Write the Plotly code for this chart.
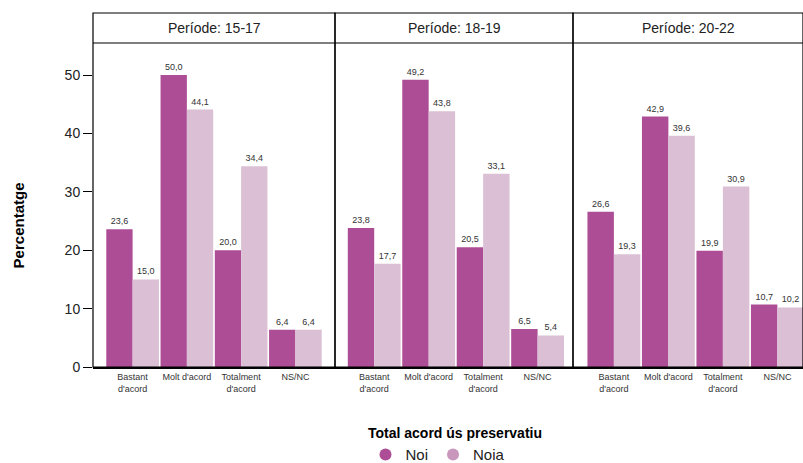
import plotly.graph_objects as go

# dades
categories = ["Bastant<br>d'acord", "Molt d'acord", "Totalment<br>d'acord", "NS/NC"]
periodes = ["Període: 15-17", "Període: 18-19", "Període: 20-22"]
noi = [
    [23.6, 50.0, 20.0, 6.4],
    [23.8, 49.2, 20.5, 6.5],
    [26.6, 42.9, 19.9, 10.7],
]
noia = [
    [15.0, 44.1, 34.4, 6.4],
    [17.7, 43.8, 33.1, 5.4],
    [19.3, 39.6, 30.9, 10.2],
]

COL_NOI = "#AD4D96"
COL_NOIA = "#DBBFD4"
COL_NOIA_LEG = "#C997BB"
FONT = "Liberation Sans, Arial, sans-serif"

W, H = 803, 463
ML, MR, MT, MB = 93, 0, 13, 96
pw, ph = W - ML - MR, H - MT - MB
# panell en píxels
edges_px = [93, 335, 573, 803]
doms = [((a - ML) / pw, (b - ML) / pw) for a, b in zip(edges_px[:-1], edges_px[1:])]
ranges = [[-0.73, 3.73], [-0.72, 3.65], [-0.75, 3.47]]
ytop = (ph - 30) / ph

fig = go.Figure()

for i in range(3):
    xa = "x" if i == 0 else f"x{i+1}"
    for vals, col, nom in [(noi[i], COL_NOI, "Noi"), (noia[i], COL_NOIA, "Noia")]:
        fig.add_trace(go.Bar(
            x=categories, y=vals, name=nom, xaxis=xa, yaxis="y",
            marker=dict(color=col, line=dict(width=0)),
            texttemplate="%{y:.1f}", textposition="outside",
            textfont=dict(size=9, color="#333333", family=FONT),
            constraintext="none", cliponaxis=False, showlegend=False,
        ))

# llegenda amb cercles
for nom, col in [("Noi", COL_NOI), ("Noia", COL_NOIA_LEG)]:
    fig.add_trace(go.Scatter(
        x=[None], y=[None], mode="markers", name=nom,
        marker=dict(color=col, size=16, symbol="circle"),
        xaxis="x", yaxis="y",
    ))

shapes = []
annotations = []
for i, (d0, d1) in enumerate(doms):
    xa_key = "xaxis" if i == 0 else f"xaxis{i+1}"
    fig.update_layout(**{xa_key: dict(
        domain=[d0, d1], anchor="y", type="category",
        categoryorder="array", categoryarray=categories,
        range=ranges[i], showgrid=False, zeroline=False,
        showline=True, linecolor="black", linewidth=2,
        ticks="", tickfont=dict(size=9, color="#333333", family=FONT),
        fixedrange=True,
    )})
    shapes.append(dict(type="rect", xref="paper", yref="paper",
                       x0=d0, x1=d1, y0=0, y1=1,
                       line=dict(color="black", width=1.2)))
    shapes.append(dict(type="line", xref="paper", yref="paper",
                       x0=d0, x1=d1, y0=ytop, y1=ytop,
                       line=dict(color="black", width=1.2)))
    annotations.append(dict(text=periodes[i], xref="paper", yref="paper",
                            x=(d0 + d1) / 2, y=(1 + ytop) / 2,
                            showarrow=False, xanchor="center", yanchor="middle",
                            font=dict(size=14, color="#222222", family=FONT)))

annotations.append(dict(text="<b>Percentatge</b>", xref="paper", yref="paper",
                        x=(18 - ML) / pw, y=0.40, textangle=-90, showarrow=False,
                        xanchor="center", yanchor="middle",
                        font=dict(size=15, color="black", family=FONT)))

fig.update_layout(
    width=W, height=H,
    margin=dict(l=ML, r=MR, t=MT, b=MB, autoexpand=False),
    paper_bgcolor="white", plot_bgcolor="white",
    barmode="group", bargap=0.03, bargroupgap=0,
    separators=",.",
    font=dict(family=FONT, color="#222222"),
    yaxis=dict(domain=[0, ytop], range=[0, 55.5], dtick=10,
               showgrid=False, zeroline=False, showline=False,
               ticks="outside", ticklen=9, tickcolor="black", tickwidth=1.2,
               tickfont=dict(size=14, color="#222222", family=FONT),
               fixedrange=True),
    shapes=shapes,
    annotations=annotations,
    legend=dict(
        orientation="h", x=(455 - ML) / pw, xanchor="center",
        yref="container", y=(H - 420) / H, yanchor="top",
        title=dict(text="<b>Total acord ús preservatiu</b>", side="top center",
                   font=dict(size=14, color="black", family=FONT)),
        font=dict(size=15, color="#222222", family=FONT),
        itemsizing="constant",
    ),
)

fig.write_html(
    "out.html",
    config={"displayModeBar": False},
    post_script="document.body.style.margin='0';document.body.style.overflow='hidden';",
)
